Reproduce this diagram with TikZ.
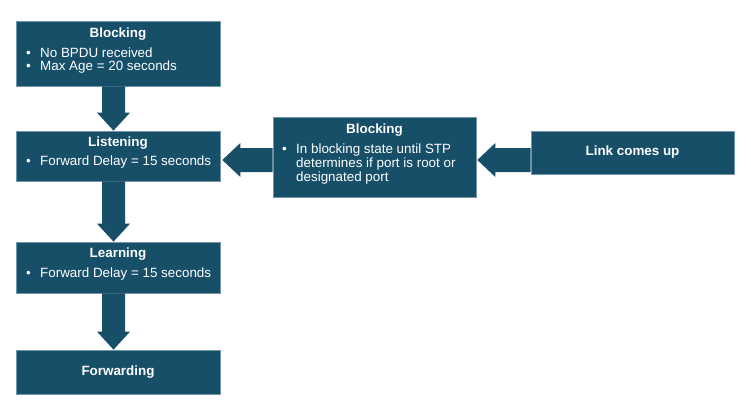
\documentclass[tikz,border=0pt]{standalone}
\usepackage{fontspec}
\setmainfont{Liberation Sans}
\usetikzlibrary{calc}
\definecolor{boxc}{HTML}{174F69}
\definecolor{edgec}{HTML}{7096AB}
\newcommand{\varrowdraw}[2]{\fill[boxc] let \p1=(#1.south), \p2=(#2.north) in
 (\x1-16pt,\y1) -- (\x1+7pt,\y1) -- (\x1+7pt,\y2+18pt) -- (\x1+12pt,\y2+18pt) -- (\x1-4.5pt,\y2)
 -- (\x1-21pt,\y2+18pt) -- (\x1-16pt,\y2+18pt) -- cycle;}
\newcommand{\harrowdraw}[4]{\fill[boxc] let \p1=(#1.west), \p2=(#2.east) in
 (\x1,-#3pt+12pt) -- (\x2+#4pt+18pt,-#3pt+12pt) -- (\x2+#4pt+18pt,-#3pt+17pt) -- (\x2+#4pt,-#3pt)
 -- (\x2+#4pt+18pt,-#3pt-17pt) -- (\x2+#4pt+18pt,-#3pt-12pt) -- (\x1,-#3pt-12pt) -- cycle;}
\begin{document}
\begin{tikzpicture}[x=1pt,y=-1pt,
 box/.style={fill=boxc,draw=edgec,line width=0.7pt,inner sep=0pt},
 ttl/.style={text=white,font=\fontsize{13.4}{15}\selectfont\bfseries,inner sep=0pt,anchor=base},
 txt/.style={text=white,font=\fontsize{13.4}{15}\selectfont,inner sep=0pt,anchor=base west}]
\useasboundingbox[fill=white] (0,0) rectangle (751,415);
% boxes
\node[box,minimum width=204pt,minimum height=65pt] (b1) at (118,53.5) {};
\node[box,minimum width=204pt,minimum height=50pt] (b2) at (118,156) {};
\node[box,minimum width=204pt,minimum height=51pt] (b3) at (118,267.5) {};
\node[box,minimum width=204pt,minimum height=44pt] (b4) at (118,372) {};
\node[box,minimum width=203pt,minimum height=80pt] (m) at (374.5,157) {};
\node[box,minimum width=203pt,minimum height=43pt] (l) at (632.5,152.5) {};
% block arrows
\varrowdraw{b1}{b2}
\varrowdraw{b2}{b3}
\varrowdraw{b3}{b4}
\harrowdraw{m}{b2}{160}{2}
\harrowdraw{l}{m}{160}{1}
% texts
\node[ttl] (t1) at (118,37.5) {Blocking};
\node[txt] (t1a) at (26,57) {\textbullet};
\node[txt] (t1b) at (40,57) {No BPDU received};
\node[txt] (t1c) at (26,70.5) {\textbullet};
\node[txt] (t1d) at (40,70.5) {Max Age = 20 seconds};
\node[ttl] (t2) at (118,146) {Listening};
\node[txt] (t2a) at (26,165) {\textbullet};
\node[txt] (t2b) at (40,165) {Forward Delay = 15 seconds};
\node[ttl] (t3) at (118,257) {Learning};
\node[txt] (t3a) at (26,277) {\textbullet};
\node[txt] (t3b) at (40,277) {Forward Delay = 15 seconds};
\node[ttl] (t4) at (118,375.5) {Forwarding};
\node[ttl] (tm) at (374.5,133) {Blocking};
\node[txt] (tma) at (282,153) {\textbullet};
\node[txt] (tmb) at (296,153) {In blocking state until STP};
\node[txt] (tmc) at (296,167) {determines if port is root or};
\node[txt] (tmd) at (296,181) {designated port};
\node[ttl] (tl) at (632.5,155) {Link comes up};
\end{tikzpicture}
\end{document}
